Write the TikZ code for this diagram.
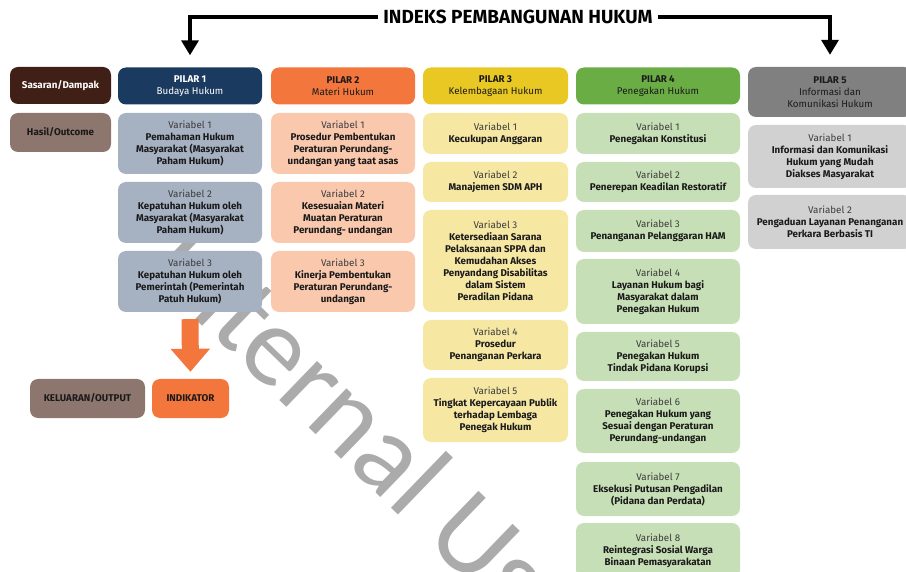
\documentclass[tikz,border=0pt]{standalone}
\usepackage{fontspec}
\setmainfont{Fira Sans}
\newfontfamily\wmfont{Carlito}
\usetikzlibrary{arrows.meta}

% Colours
\definecolor{sasaran}{HTML}{3F1F16}
\definecolor{hasil}{HTML}{8C766E}
\definecolor{pilarA}{HTML}{1B3A5F}
\definecolor{pilarAvar}{HTML}{A6B1C2}
\definecolor{pilarB}{HTML}{F3773D}
\definecolor{pilarBvar}{HTML}{F9C8AD}
\definecolor{pilarC}{HTML}{E9C824}
\definecolor{pilarCvar}{HTML}{F6E7A3}
\definecolor{pilarD}{HTML}{6AAD45}
\definecolor{pilarDvar}{HTML}{C7DFB6}
\definecolor{pilarE}{HTML}{808080}
\definecolor{pilarEvar}{HTML}{D1D1D1}
\definecolor{txtdark}{HTML}{1A1A1A}
\definecolor{vargray}{HTML}{3C3C3C}
\definecolor{wmgray}{HTML}{ABABAB}

\begin{document}
\begin{tikzpicture}[x=1pt, y=-1pt,
    box/.style={rounded corners=8pt, align=center, inner sep=0pt, text=txtdark,
        font=\fontsize{9.8}{12}\selectfont\bfseries},
    pilar/.style={box, minimum height=37pt, minimum width=#1},
    var/.style={box, minimum width=#1},
    topline/.style={line width=3.5pt, -{Triangle[width=17pt,length=15pt]}, shorten >=12pt},
    blockarrow/.style={draw=pilarB, line width=17pt, -{Triangle[width=38pt,length=23pt]},
        shorten <=7pt, shorten >=7pt},
    watermark/.style={text=wmgray, font=\wmfont\fontsize{114}{114}\selectfont, inner sep=0pt}
]
\useasboundingbox (0,0) rectangle (906,572);

% Watermark (behind everything)
\node[watermark, anchor=base west, rotate=-44] (wm) at (144,269) {Internal Use};

% Title
\node[font=\fontsize{19}{22}\selectfont\bfseries, inner xsep=5pt] (idx) at (518,17) {INDEKS PEMBANGUNAN HUKUM};

% Left labels
\node[pilar=101pt, fill=sasaran, text=white] (sas) at (60.5,85.5) {Sasaran/Dampak};
\node[pilar=101pt, fill=hasil, minimum height=39pt] (has) at (60.5,132.5) {Hasil/Outcome};

% Pilar headers
\node[pilar=144pt, fill=pilarA, text=white] (p1) at (190,86) {PILAR 1\\\mdseries Budaya Hukum};
\node[pilar=144pt, fill=pilarB] (p2) at (343,86) {PILAR 2\\\mdseries Materi Hukum};
\node[pilar=145pt, fill=pilarC] (p3) at (495.5,86) {PILAR 3\\\mdseries Kelembagaan Hukum};
\node[pilar=164pt, fill=pilarD] (p4) at (658,86) {PILAR 4\\\mdseries Penegakan Hukum};
\node[pilar=164pt, fill=pilarE, minimum height=50pt] (p5) at (830,92) {PILAR 5\\\mdseries Informasi dan\\\mdseries Komunikasi Hukum};

% Pilar 1
\node[var=144pt, fill=pilarAvar, minimum height=61pt] (p1v1) at (190,143.5)
    {{\mdseries\color{vargray}Variabel 1}\\Pemahaman Hukum\\Masyarakat (Masyarakat\\Paham Hukum)};
\node[var=144pt, fill=pilarAvar, minimum height=61pt] (p1v2) at (190,212.5)
    {{\mdseries\color{vargray}Variabel 2}\\Kepatuhan Hukum oleh\\Masyarakat (Masyarakat\\Paham Hukum)};
\node[var=144pt, fill=pilarAvar, minimum height=61pt] (p1v3) at (190,281.5)
    {{\mdseries\color{vargray}Variabel 3}\\Kepatuhan Hukum oleh\\Pemerintah (Pemerintah\\Patuh Hukum)};

% Pilar 2
\node[var=144pt, fill=pilarBvar, minimum height=61pt] (p2v1) at (343,143.5)
    {{\mdseries\color{vargray}Variabel 1}\\Prosedur Pembentukan\\Peraturan Perundang-\\undangan yang taat asas};
\node[var=144pt, fill=pilarBvar, minimum height=61pt] (p2v2) at (343,212.5)
    {{\mdseries\color{vargray}Variabel 2}\\Kesesuaian Materi\\Muatan Peraturan\\Perundang- undangan};
\node[var=144pt, fill=pilarBvar, minimum height=61pt] (p2v3) at (343,281.5)
    {{\mdseries\color{vargray}Variabel 3}\\Kinerja Pembentukan\\Peraturan Perundang-\\undangan};

% Pilar 3
\node[var=145pt, fill=pilarCvar, minimum height=41pt] (p3v1) at (495.5,133.5)
    {{\mdseries\color{vargray}Variabel 1}\\Kecukupan Anggaran};
\node[var=145pt, fill=pilarCvar, minimum height=40pt] (p3v2) at (495.5,182)
    {{\mdseries\color{vargray}Variabel 2}\\Manajemen SDM APH};
\node[var=145pt, fill=pilarCvar, minimum height=102pt] (p3v3) at (495.5,261)
    {{\mdseries\color{vargray}Variabel 3}\\Ketersediaan Sarana\\Pelaksanaan SPPA dan\\Kemudahan Akses\\Penyandang Disabilitas\\dalam Sistem\\Peradilan Pidana};
\node[var=145pt, fill=pilarCvar, minimum height=50pt] (p3v4) at (495.5,345)
    {{\mdseries\color{vargray}Variabel 4}\\Prosedur\\Penanganan Perkara};
\node[var=145pt, fill=pilarCvar, minimum height=64pt] (p3v5) at (495.5,410)
    {{\mdseries\color{vargray}Variabel 5}\\Tingkat Kepercayaan Publik\\terhadap Lembaga\\Penegak Hukum};

% Pilar 4
\node[var=164pt, fill=pilarDvar, minimum height=41pt] (p4v1) at (658,133.5)
    {{\mdseries\color{vargray}Variabel 1}\\Penegakan Konstitusi};
\node[var=164pt, fill=pilarDvar, minimum height=40pt] (p4v2) at (658,182)
    {{\mdseries\color{vargray}Variabel 2}\\Penerepan Keadilan Restoratif};
\node[var=164pt, fill=pilarDvar, minimum height=42pt] (p4v3) at (658,231)
    {{\mdseries\color{vargray}Variabel 3}\\Penanganan Pelanggaran HAM};
\node[var=164pt, fill=pilarDvar, minimum height=65pt] (p4v4) at (658,291.5)
    {{\mdseries\color{vargray}Variabel 4}\\Layanan Hukum bagi\\Masyarakat dalam\\Penegakan Hukum};
\node[var=164pt, fill=pilarDvar, minimum height=49pt] (p4v5) at (658,356.5)
    {{\mdseries\color{vargray}Variabel 5}\\Penegakan Hukum\\Tindak Pidana Korupsi};
\node[var=164pt, fill=pilarDvar, minimum height=64pt] (p4v6) at (658,421)
    {{\mdseries\color{vargray}Variabel 6}\\Penegakan Hukum yang\\Sesuai dengan Peraturan\\Perundang-undangan};
\node[var=164pt, fill=pilarDvar, minimum height=54pt] (p4v7) at (658,489)
    {{\mdseries\color{vargray}Variabel 7}\\Eksekusi Putusan Pengadilan\\(Pidana dan Perdata)};
\node[var=164pt, fill=pilarDvar, minimum height=55pt] (p4v8) at (658,550.5)
    {{\mdseries\color{vargray}Variabel 8}\\Reintegrasi Sosial Warga\\Binaan Pemasyarakatan};

% Pilar 5
\node[var=164pt, fill=pilarEvar, minimum height=63pt] (p5v1) at (830,156.5)
    {{\mdseries\color{vargray}Variabel 1}\\Informasi dan Komunikasi\\Hukum yang Mudah\\Diakses Masyarakat};
\node[var=164pt, fill=pilarEvar, minimum height=54pt] (p5v2) at (830,222)
    {{\mdseries\color{vargray}Variabel 2}\\Pengaduan Layanan Penanganan\\Perkara Berbasis TI};

% Output row
\node[pilar=115pt, fill=hasil, minimum height=39pt] (kel) at (87.5,398.5) {KELUARAN/OUTPUT};
\node[pilar=77pt, fill=pilarB, minimum height=39pt] (ind) at (190.5,398.5) {INDIKATOR};

% Connectors
\draw[topline] (idx.west) -| (p1.north);
\draw[topline] (idx.east) -| (p5.north);
\draw[blockarrow] (p1v3.south) -- (ind.north);

\end{tikzpicture}
\end{document}
